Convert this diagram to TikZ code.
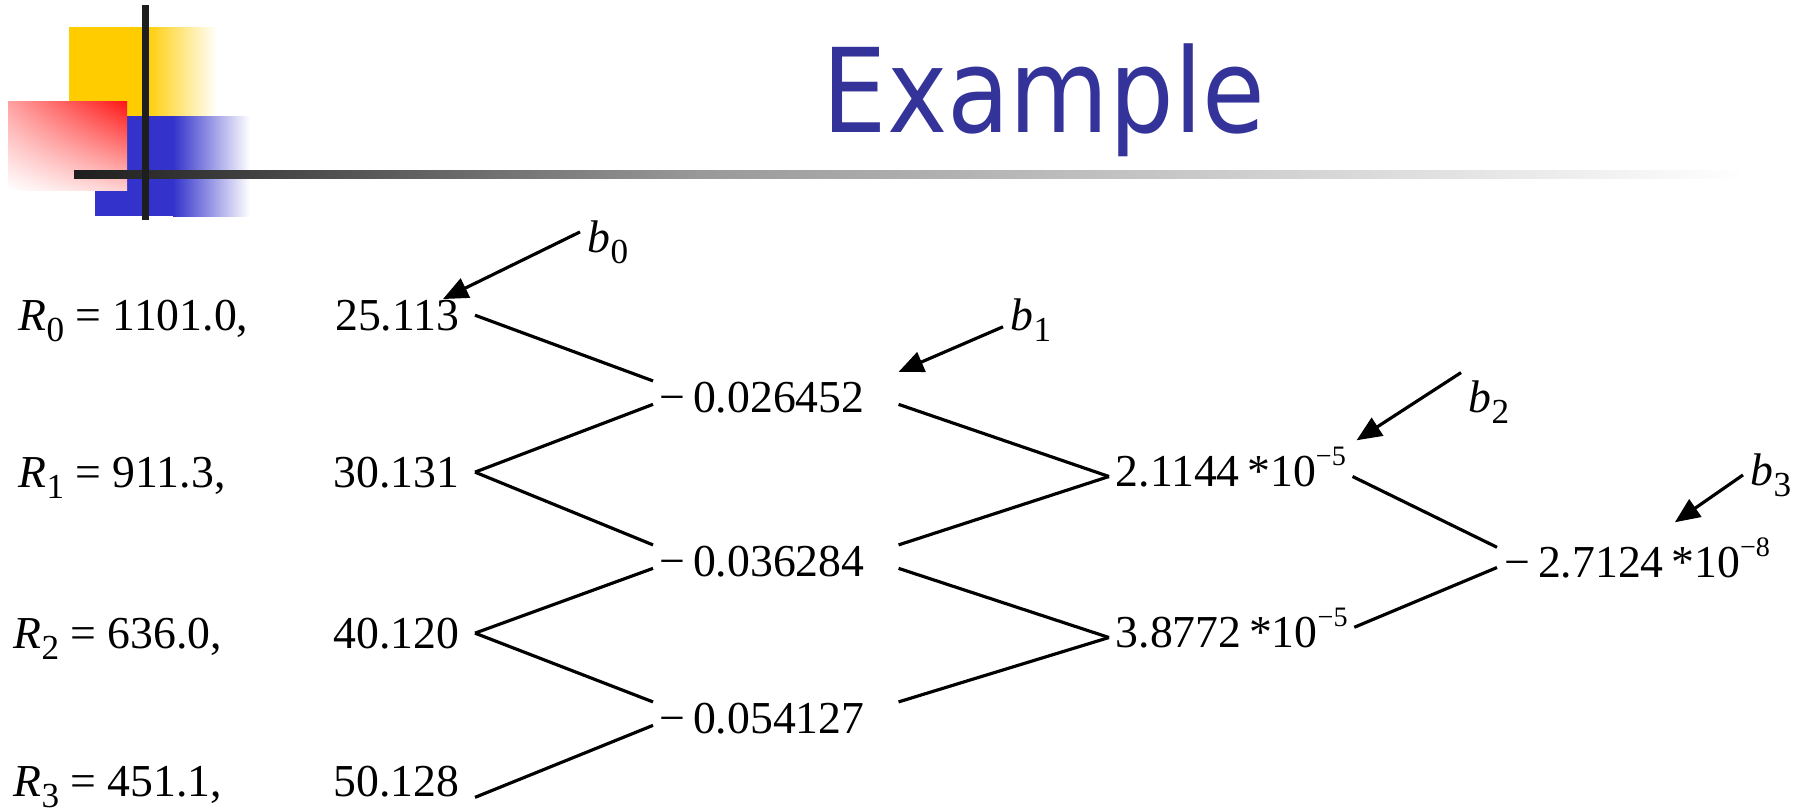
\documentclass[tikz,border=0pt]{standalone}
\usepackage{fontspec}
\usepackage{graphicx}
\usetikzlibrary{arrows.meta,shadings}
\setmainfont{Liberation Serif}
\newfontfamily\titlefont{DejaVu Sans}
\definecolor{titleblue}{RGB}{51,51,153}
\definecolor{decoyellow}{RGB}{255,204,0}
\definecolor{decoblue}{RGB}{51,51,204}
\definecolor{decobar}{RGB}{30,30,30}
\newcommand{\vsub}[2]{\textit{#1}\raisebox{-3.2pt}{\fontsize{10pt}{10pt}\selectfont #2}}
\newcommand{\tpow}[1]{\raisebox{5.8pt}{\fontsize{8pt}{8pt}\selectfont #1}}
\begin{document}
\begin{tikzpicture}[x=0.01cm, y=-0.01cm,
    every node/.style={font=\fontsize{13pt}{15pt}\selectfont},
    rlab/.style={anchor=base west, inner sep=0pt},
    lnum/.style={anchor=base east, inner xsep=0.15cm, inner ysep=0pt},
    mnum/.style={anchor=base west, text width=2.32cm, align=left, inner xsep=0.06cm, inner ysep=0pt},
    rnum/.style={anchor=base west, inner xsep=0.06cm, inner ysep=0pt, text height=0.19cm, text depth=0pt},
    blab/.style={anchor=base west, inner xsep=0.07cm, inner ysep=0pt},
    tree/.style={line width=0.9pt},
    pointer/.style={line width=0.9pt, -{Triangle[length=0.25cm, width=0.21cm]}}]
    \useasboundingbox (0,0) rectangle (1800,811);

    \fill[decoyellow] (69,27) rectangle (145,116);
    \shade[left color=decoyellow, right color=white] (145,27) rectangle (217,116);
    \fill[decoblue] (95,116) rectangle (173,216);
    \shade[left color=decoblue, right color=white] (173,116) rectangle (250,216);
    \shade[upper left=red!37, upper right=red!92, lower left=white, lower right=red!18] (8,101) rectangle (127,190);
    \shade[left color=decobar, right color=black!40] (74,170) rectangle (700,178);
    \shade[left color=black!40, right color=white] (700,170) rectangle (1745,178);
    \fill[decobar] (142,5) rectangle (149,220);

    \node[anchor=north west, inner sep=0pt, text=titleblue] (title) at (822,43)
      {\resizebox*{4.42cm}{1.13cm}{\titlefont Example}};

    \node[rlab] (R0) at (18,330) {\vsub{R}{0} = 1101.0,};
    \node[rlab] (R1) at (18,487) {\vsub{R}{1} = 911.3,};
    \node[rlab] (R2) at (13,648) {\vsub{R}{2} = 636.0,};
    \node[rlab] (R3) at (13,796) {\vsub{R}{3} = 451.1,};

    \node[lnum] (l0) at (475,330) {25.113};
    \node[lnum] (l1) at (475,487) {30.131};
    \node[lnum] (l2) at (475,648) {40.120};
    \node[lnum] (l3) at (475,796) {50.128};

    \node[mnum] (m0) at (653,412) {−\,0.026452};
    \node[mnum] (m1) at (653,576) {−\,0.036284};
    \node[mnum] (m2) at (653,733) {−\,0.054127};

    \node[rnum] (r0) at (1109,486) {2.1144\,*10\tpow{−5}};
    \node[rnum] (r1) at (1109,647) {3.8772\,*10\tpow{−5}};
    \node[rnum, inner xsep=0.07cm] (f) at (1497,577) {−\,2.7124\,*10\tpow{−8}};

    \node[blab] (b0) at (580,252) {\vsub{b}{0}};
    \node[blab] (b1) at (1003,330) {\vsub{b}{1}};
    \node[blab] (b2) at (1461,412) {\vsub{b}{2}};
    \node[blab] (b3) at (1743,485) {\vsub{b}{3}};

    \draw[tree] (l0.east) -- (m0.north west);
    \draw[tree] (l1.east) -- ([yshift=0.09cm]m0.south west);
    \draw[tree] (l1.east) -- (m1.north west);
    \draw[tree] (l2.east) -- ([yshift=0.09cm]m1.south west);
    \draw[tree] (l2.east) -- (m2.north west);
    \draw[tree] (l3.south east) -- ([yshift=0.09cm]m2.south west);
    \draw[tree] ([yshift=0.09cm]m0.south east) -- (r0.west);
    \draw[tree] (m1.north east) -- (r0.west);
    \draw[tree] ([yshift=0.09cm]m1.south east) -- (r1.west);
    \draw[tree] (m2.north east) -- (r1.west);
    \draw[tree] (r0.east) -- ([yshift=0.1cm]f.north west);
    \draw[tree] (r1.north east) -- (f.west);

    \draw[pointer] ([yshift=0.1cm]b0.west) -- ([xshift=-0.32cm]l0.north east);
    \draw[pointer] ([yshift=-0.07cm]b1.west) -- ([yshift=0.09cm]m0.north east);
    \draw[pointer] ([yshift=0.07cm]b2.north west) -- ([shift={(0.04cm,0.26cm)}]r0.north east);
    \draw[pointer] (b3.west) -- ([shift={(0.375cm,0.35cm)}]f.north);
\end{tikzpicture}
\end{document}
